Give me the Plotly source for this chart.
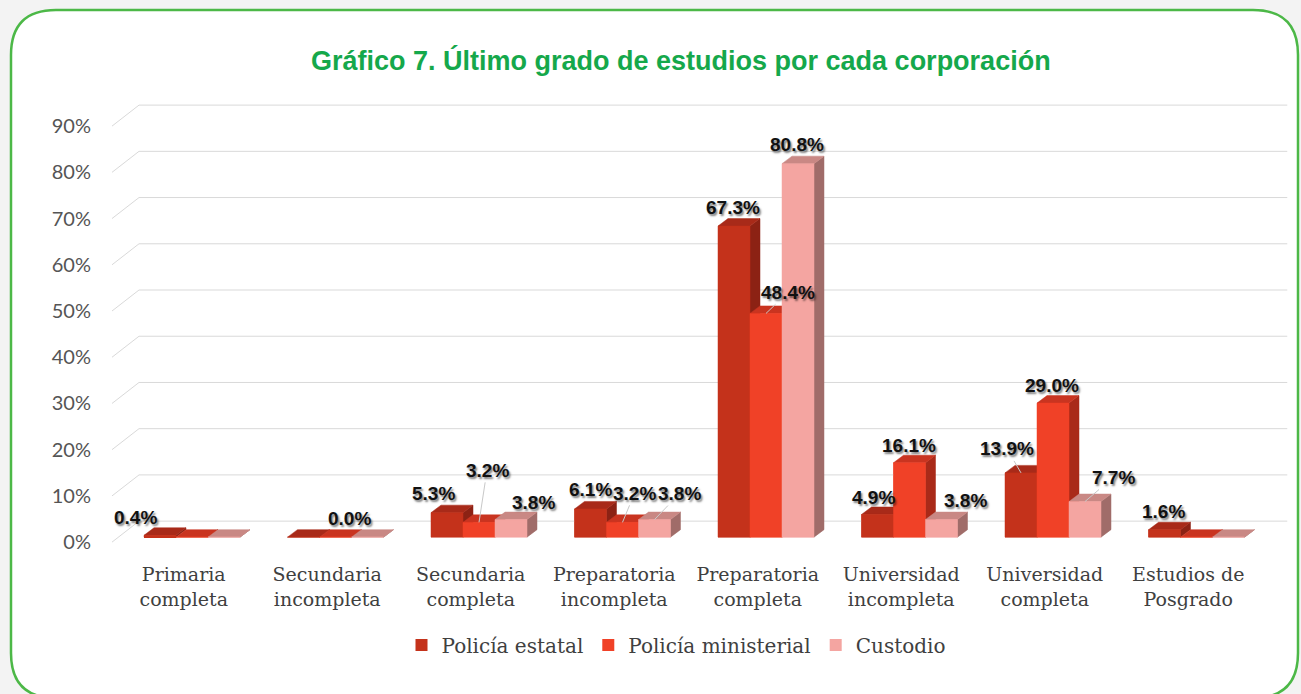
import plotly.graph_objects as go

# ---------------- data ----------------
categories = ["Primaria<br>completa", "Secundaria<br>incompleta", "Secundaria<br>completa",
              "Preparatoria<br>incompleta", "Preparatoria<br>completa", "Universidad<br>incompleta",
              "Universidad<br>completa", "Estudios de<br>Posgrado"]
series_names = ["Policía estatal", "Policía ministerial", "Custodio"]
estatal = [0.4, 0.0, 5.3, 6.1, 67.3, 4.9, 13.9, 1.6]
ministerial = [0.0, 0.0, 3.2, 3.2, 48.4, 16.1, 29.0, 0.0]
custodio = [0.0, 0.0, 3.8, 3.8, 80.8, 3.8, 7.7, 0.0]
y_ticks = [0, 10, 20, 30, 40, 50, 60, 70, 80, 90]

# which data labels are shown
show_estatal = [True, False, True, True, True, True, True, True]
show_ministerial = [False, True, True, True, True, True, True, False]
show_custodio = [False, False, True, True, True, True, True, False]

# ---------------- style ----------------
front_cols = ["#c4321b", "#f04127", "#f4a5a1"]
side_cols = ["#8c2214", "#a92a19", "#a06c69"]
top_cols = ["#a82a19", "#c93420", "#c98884"]

# label offsets in px (dx, dy-up, leader)
lab_style = [
    {0: (-25, 18, 0), 2: (-14, 19, 0), 3: (0, 19, 0), 4: (-1, 19, 0), 5: (-4, 17, 0), 6: (-14, 24, 1), 7: (-1, 18, 0)},
    {1: (14, 19, 0), 2: (8, 52, 1), 3: (12, 29, 1), 4: (22, 21, 1), 5: (-1, 17, 0), 6: (-1, 18, 0)},
    {2: (22, 17, 0), 3: (25, 26, 1), 4: (-1, 19, 0), 5: (24, 19, 0), 6: (28, 24, 1)},
]

W, H = 1301, 694
L, R, T, B = 112, 11, 98, 143
pw, ph = W - L - R, H - T - B
x0, x1 = -0.5, 7.709
y0, y1 = -3, 95
px_x = pw / (x1 - x0)          # px per x unit
px_y = ph / (y1 - y0)          # px per y unit

bw = 32 / px_x                 # bar width
shift = 8.25 / px_x            # group shift to the right
ddx, ddy = 10 / px_x, 7.5 / px_y   # bar depth
lab_off = 5 / px_y             # label plane below bar plane
gx, gy = 27 / px_x, 21 / px_y  # grid back plane from label plane
grid_right = 7.69

all_series = [estatal, ministerial, custodio]
all_show = [show_estatal, show_ministerial, show_custodio]

fig = go.Figure()

# gridlines (back plane with diagonal to the front)
gxs, gys = [], []
for v in y_ticks:
    yl = v - lab_off
    gxs += [x0, x0 + gx, grid_right, None]
    gys += [yl, yl + gy, yl + gy, None]
fig.add_trace(go.Scatter(x=gxs, y=gys, mode="lines", line=dict(color="#d9d9d9", width=1),
                         hoverinfo="skip", showlegend=False))

# bars (front faces, legend)
for j, (name, vals) in enumerate(zip(series_names, all_series)):
    xs = [i + shift + (j - 1) * bw for i in range(len(vals))]
    fig.add_trace(go.Bar(x=xs, y=vals, width=bw, name=name, marker=dict(color=front_cols[j], line=dict(width=0)),
                         hoverinfo="skip"))

# 3D faces
for j, vals in enumerate(all_series):
    sx, sy, tx, ty, fx, fy = [], [], [], [], [], []
    for i, v in enumerate(vals):
        xc = i + shift + (j - 1) * bw
        xl, xr = xc - bw / 2, xc + bw / 2
        sx += [xr, xr + ddx, xr + ddx, xr, xr, None]
        sy += [0, ddy, v + ddy, v, 0, None]
        tx += [xl, xl + ddx, xr + ddx, xr, xl, None]
        ty += [v, v + ddy, v + ddy, v, v, None]
        fx += [xl, xr, xr, xl, xl, None]
        fy += [0, 0, v, v, 0, None]
    for xs_, ys_, c in [(sx, sy, side_cols[j]), (tx, ty, top_cols[j]), (fx, fy, front_cols[j])]:
        fig.add_trace(go.Scatter(x=xs_, y=ys_, mode="lines", fill="toself", fillcolor=c,
                                 line=dict(color=c, width=0.5), hoverinfo="skip", showlegend=False))

# data labels
annotations = []
for j, vals in enumerate(all_series):
    for i, v in enumerate(vals):
        if not all_show[j][i]:
            continue
        dx, dy, lead = lab_style[j][i]
        xc = i + shift + (j - 1) * bw
        annotations.append(dict(
            x=xc, y=v, xref="x", yref="y", text=f"{v:.1f}%",
            showarrow=True, ax=dx, ay=-dy, arrowhead=0, arrowwidth=1, standoff=0,
            arrowcolor="#c8c8c8" if lead else "rgba(0,0,0,0)",
            font=dict(family="Liberation Sans", size=19, color="#111111", weight="bold",
                      shadow="1.5px 1.5px 2px rgba(0,0,0,0.5)"),
        ))

# title
annotations.append(dict(
    x=(681 - L) / pw, y=(H - B - 60) / ph, xref="paper", yref="paper", showarrow=False,
    text="Gráfico 7. Último grado de estudios por cada corporación",
    font=dict(family="Liberation Sans", size=27, color="#15a84b", weight="bold"),
    xanchor="center", yanchor="middle"))

# rounded border (paper coordinates)
def px2p(px, py):
    return (px - L) / pw, (H - B - py) / ph

bx0, by0, bx1, by1, rr = 11, 10, 1298, 698, 45
def P(px, py):
    a, b = px2p(px, py)
    return f"{a:.5f},{b:.5f}"
path = (f"M{P(bx0 + rr, by0)} L{P(bx1 - rr, by0)} Q{P(bx1, by0)} {P(bx1, by0 + rr)} "
        f"L{P(bx1, by1 - rr)} Q{P(bx1, by1)} {P(bx1 - rr, by1)} "
        f"L{P(bx0 + rr, by1)} Q{P(bx0, by1)} {P(bx0, by1 - rr)} "
        f"L{P(bx0, by0 + rr)} Q{P(bx0, by0)} {P(bx0 + rr, by0)} Z")
shapes = [dict(type="path", path=path, xref="paper", yref="paper", layer="below",
               fillcolor="white", line=dict(color="#4cb847", width=2.5))]

fig.update_layout(
    width=W, height=H,
    margin=dict(l=L, r=R, t=T, b=B),
    paper_bgcolor="#f3f3f3", plot_bgcolor="rgba(0,0,0,0)",
    barmode="overlay",
    showlegend=True,
    legend=dict(orientation="h", x=(676 - L) / pw, xanchor="center", y=(H - B - 645) / ph, yanchor="middle",
                font=dict(family="DejaVu Serif", size=20, color="#404040"), bgcolor="rgba(0,0,0,0)",
                itemclick=False, itemdoubleclick=False),
    xaxis=dict(range=[x0, x1], tickvals=list(range(len(categories))), ticktext=categories,
               showgrid=False, zeroline=False, showline=False, ticks="", ticklabelstandoff=10,
               tickfont=dict(family="DejaVu Serif", size=19, color="#404040"), fixedrange=True),
    yaxis=dict(range=[y0, y1], tickvals=[v - lab_off for v in y_ticks], ticktext=[f"{v}%" for v in y_ticks],
               showgrid=False, zeroline=False, showline=False, ticks="", ticklabelstandoff=20,
               tickfont=dict(family="Lato", size=20, color="#555555"), fixedrange=True),
    annotations=annotations,
    shapes=shapes,
)

fig.write_html("out.html", config={"displayModeBar": False},
               post_script="document.body.style.margin='0';")
